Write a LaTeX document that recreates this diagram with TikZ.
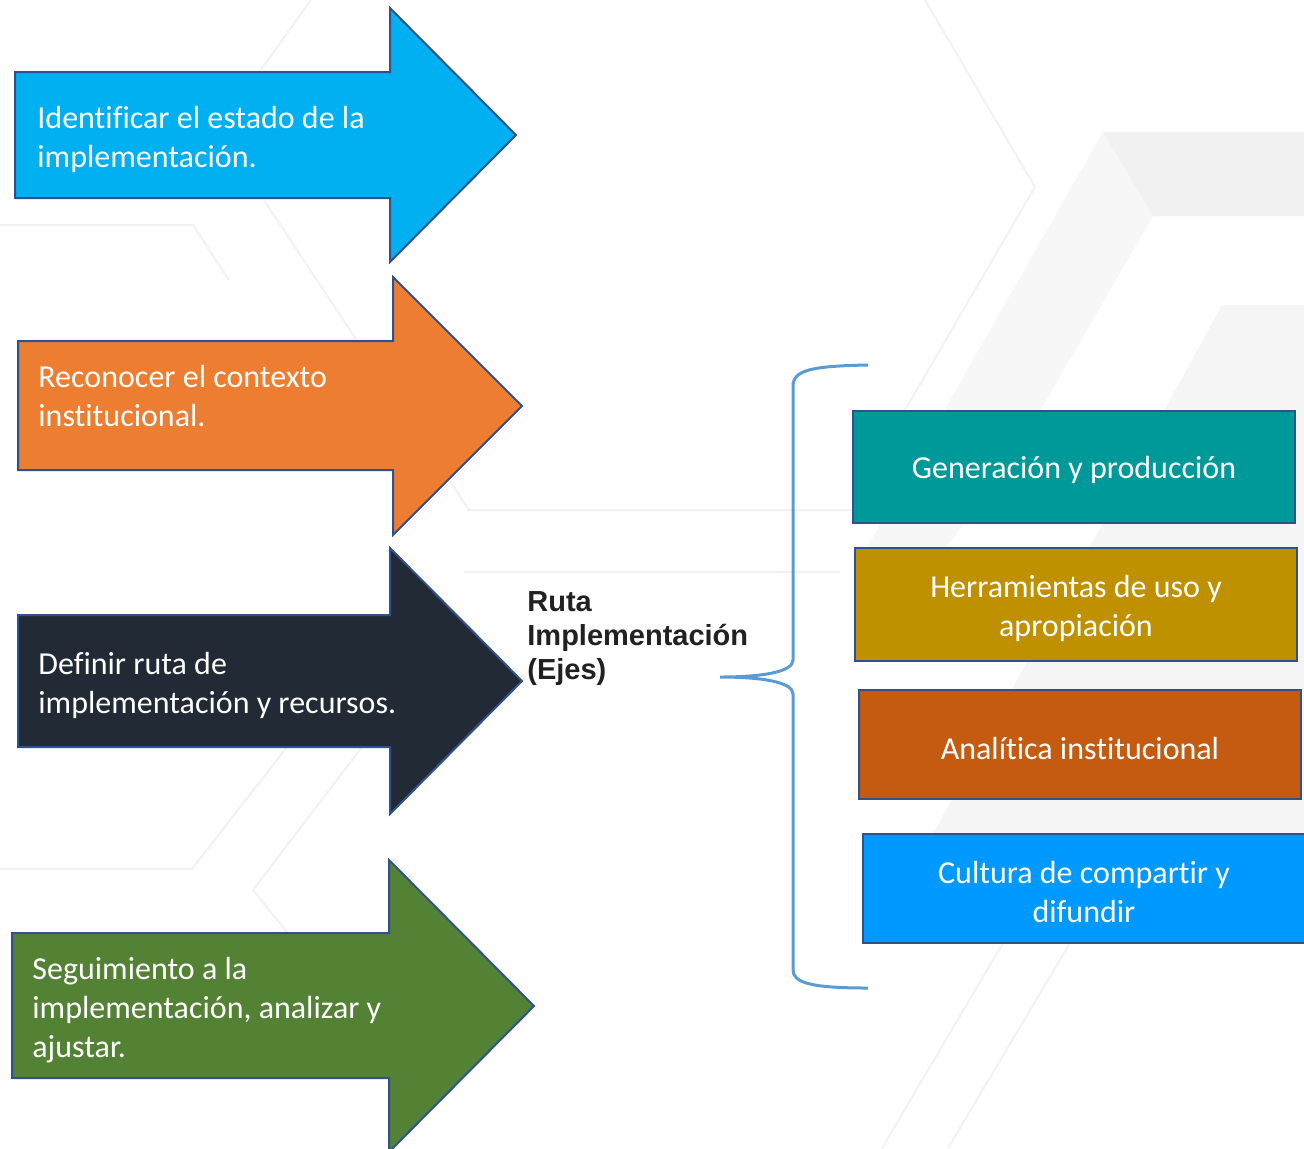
\documentclass[tikz,border=0pt]{standalone}
\usepackage{fontspec}
\setmainfont[Ligatures=NoCommon]{Carlito}
\newfontfamily\rutafont{Liberation Sans}

\definecolor{borde}{HTML}{2F528F}
\definecolor{llave}{HTML}{5B9BD5}
\definecolor{pasoazul}{HTML}{00B0F0}
\definecolor{pasonaranja}{HTML}{ED7D31}
\definecolor{pasooscuro}{HTML}{222A35}
\definecolor{pasoverde}{HTML}{548235}
\definecolor{ejeteal}{HTML}{009999}
\definecolor{ejeoro}{HTML}{BF9000}
\definecolor{ejeocre}{HTML}{C55A11}
\definecolor{ejeazul}{HTML}{0099FF}

\begin{document}
\begin{tikzpicture}[x=0.5pt, y=-0.5pt,
        flecha/.style={draw=borde, line width=1pt, line join=miter},
        caja/.style={draw=borde, line width=1.2pt},
        paso/.style={text=white, font=\fontsize{16}{19.5}\selectfont, align=left, anchor=west, inner sep=0pt},
        eje/.style={text=white, font=\fontsize{16}{19.5}\selectfont, align=center, inner sep=0pt},
        fondo/.style={draw=gray!10, line width=1pt}]
        \useasboundingbox (0,0) rectangle (1304,1148);
        \clip (0,0) rectangle (1304,1148);
        \fill[white] (0,0) rectangle (1304,1148);

        % fondo
        \fill[gray!6] (1103,132) -- (1153,216) -- (1000,480) -- (935,560) -- (860,560) -- (950,400) -- cycle;
        \fill[gray!11] (1103,132) -- (1304,132) -- (1304,216) -- (1153,216) -- cycle;
        \fill[gray!8] (1222,305) -- (1304,305) -- (1304,900) -- (897,900) -- cycle;
        \draw[fondo] (925,0) -- (1035,187) -- (905,410);
        \draw[fondo] (311,0) -- (257,75);
        \draw[fondo] (0,225) -- (193,225) -- (229,280);
        \draw[fondo] (264,200) -- (469,510) -- (930,510);
        \draw[fondo] (464,572) -- (840,572);
        \draw[fondo] (0,869) -- (192,869) -- (287,747);
        \draw[fondo] (362,747) -- (253,890) -- (287,932);
        \draw[fondo] (1003,943) -- (882,1148);
        \draw[fondo] (1070,943) -- (948,1148);

        % flechas
        \draw[flecha, fill=pasoazul] (15,72) -- (390,72) -- (390,8) -- (516,135) -- (390,262) -- (390,198) -- (15,198) -- cycle;
        \draw[flecha, fill=pasonaranja] (18,341) -- (393,341) -- (393,277) -- (522,406) -- (393,535) -- (393,470) -- (18,470) -- cycle;
        \draw[flecha, fill=pasooscuro] (18,615) -- (390,615) -- (390,548) -- (522,681) -- (390,814) -- (390,747) -- (18,747) -- cycle;
        \draw[flecha, fill=pasoverde] (12,933) -- (389,933) -- (389,860) -- (534,1006) -- (389,1152) -- (389,1078) -- (12,1078) -- cycle;

        \node[paso] (paso1) at (37,139) {Identificar el estado de la\\implementación.};
        \node[paso] (paso2) at (38,396) {Reconocer el contexto\\institucional.};
        \node[paso] (paso3) at (38,685) {Definir ruta de\\implementación y recursos.};
        \node[paso] (paso4) at (32,1010) {Seguimiento a la\\implementación, analizar y\\ajustar.};

        % ruta
        \node[anchor=west, inner sep=0pt, align=left, text=black!87, font=\rutafont\bfseries\fontsize{14.5}{17}\selectfont] (ruta) at (527,639) {Ruta\\Implementación\\(Ejes)};
        \coordinate (punta) at (720,677);
        \draw[llave, line width=1.5pt] (868,365) .. controls (812,366) and (793,370) .. (793,386) -- (793,660) .. controls (793,672) and (762,677) .. (punta) .. controls (762,677) and (793,682) .. (793,694) -- (793,970) .. controls (793,983) and (812,988) .. (868,988);

        % ejes
        \draw[caja, fill=ejeteal] (853,411) rectangle (1295,523);
        \draw[caja, fill=ejeoro] (855,548) rectangle (1297,661);
        \draw[caja, fill=ejeocre] (859,690) rectangle (1301,799);
        \draw[caja, fill=ejeazul] (863,834) rectangle (1305,943);
        \node[eje] (eje1) at (1074,470) {Generación y producción};
        \node[eje] (eje2) at (1076,608) {Herramientas de uso y\\apropiación};
        \node[eje] (eje3) at (1080,748) {Analítica institucional};
        \node[eje] (eje4) at (1084,892) {Cultura de compartir y\\difundir};
\end{tikzpicture}
\end{document}
